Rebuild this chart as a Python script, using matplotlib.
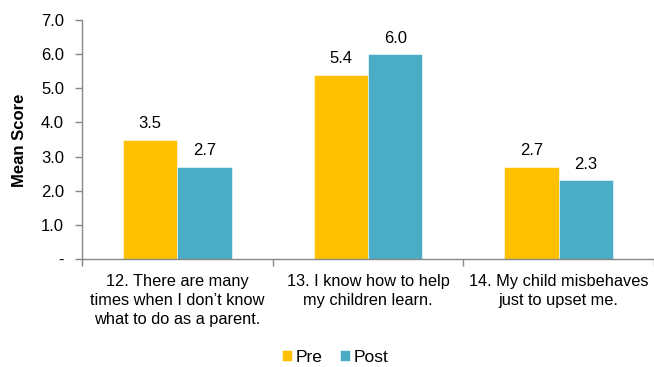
import matplotlib
matplotlib.use("Agg")
import matplotlib.pyplot as plt
import numpy as np

categories = ["12. There are many\ntimes when I don\u2019t know\nwhat to do as a parent.",
              "13. I know how to help\nmy children learn.",
              "14. My child misbehaves\njust to upset me."]
pre = [3.5, 5.4, 2.7]
post = [2.7, 6.0, 2.3]
series_names = ["Pre", "Post"]
yticks = [0, 1, 2, 3, 4, 5, 6, 7]
ytick_labels = ["-", "1.0", "2.0", "3.0", "4.0", "5.0", "6.0", "7.0"]

plt.rcParams['font.family'] = ['Liberation Sans', 'DejaVu Sans']

W, H = 654, 367
fig = plt.figure(figsize=(W/100, H/100), dpi=100)
left, right, top, bottom = 82, 654, 20, 259
ax = fig.add_axes([left/W, (H-bottom)/H, (right-left)/W, (bottom-top)/H])

x = np.arange(len(categories))
bw = 0.285
c_pre = "#FFC000"
c_post = "#4BACC6"
b1 = ax.bar(x - bw/2, pre, bw, color=c_pre, label=series_names[0], edgecolor="white", linewidth=0.4)
b2 = ax.bar(x + bw/2, post, bw, color=c_post, label=series_names[1], edgecolor="white", linewidth=0.4)

for bars, vals in ((b1, pre), (b2, post)):
    for b, v in zip(bars, vals):
        ax.annotate(f"{v:.1f}", (b.get_x() + b.get_width()/2, v), xytext=(0, 6),
                    textcoords="offset points", ha="center", va="bottom", fontsize=12, color="black")

ax.set_xlim(-0.5, -0.5 + (right-left)/192)
ax.set_ylim(0, 7)
ax.set_yticks(yticks)
ax.set_yticklabels(ytick_labels, fontsize=12)
ax.set_xticks(x)
ax.set_xticklabels(categories, fontsize=11.8, linespacing=1.32)
ax.tick_params(axis='x', length=0, pad=11)
ax.set_xticks([-0.5, 0.5, 1.5, 2.5], minor=True)
ax.tick_params(axis='x', which='minor', length=5, color="#888888", width=1)
ax.tick_params(axis='y', length=5, color="#888888", width=1, pad=8)

for s in ["top", "right"]:
    ax.spines[s].set_visible(False)
for s in ["left", "bottom"]:
    ax.spines[s].set_color("#888888")
    ax.spines[s].set_linewidth(1)

fig.text(20/W, (H-140)/H, "Mean Score", rotation=90, ha="center", va="center",
         fontsize=12, fontweight="bold")

fig.legend(handles=[b1, b2], labels=series_names, loc="center", bbox_to_anchor=(335/W, (H-357)/H),
           ncol=2, frameon=False, fontsize=12.5, handlelength=0.6, handleheight=0.6,
           handletextpad=0.2, columnspacing=1.0)

fig.savefig("out.png", dpi=100)
